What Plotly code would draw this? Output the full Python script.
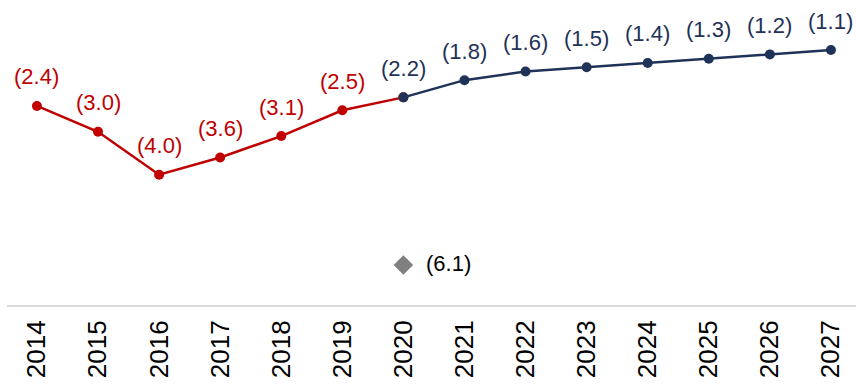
import plotly.graph_objects as go

years_hist = [2014, 2015, 2016, 2017, 2018, 2019, 2020]
vals_hist = [2.4, 3.0, 4.0, 3.6, 3.1, 2.5, 2.2]
years_fcst = [2020, 2021, 2022, 2023, 2024, 2025, 2026, 2027]
vals_fcst = [2.2, 1.8, 1.6, 1.5, 1.4, 1.3, 1.2, 1.1]
special_year = [2020]
special_val = [6.1]
tick_years = list(range(2014, 2028))

RED = "#C00000"
NAVY = "#1F3257"
FONT = "Liberation Sans, Arial"

def lab(v):
    return "(%.1f)" % v

fig = go.Figure()
fig.add_trace(go.Scatter(
    x=years_hist, y=[-v for v in vals_hist], mode="lines+markers",
    line=dict(color=RED, width=2.5), marker=dict(color=RED, size=10),
    hoverinfo="skip", cliponaxis=False))
fig.add_trace(go.Scatter(
    x=years_fcst, y=[-v for v in vals_fcst], mode="lines+markers",
    line=dict(color=NAVY, width=2.5), marker=dict(color=NAVY, size=10),
    hoverinfo="skip", cliponaxis=False))
fig.add_trace(go.Scatter(
    x=special_year, y=[-v for v in special_val], mode="markers+text",
    marker=dict(color="#808080", size=15, symbol="diamond"),
    text=["  " + lab(v) for v in special_val], textposition="middle right",
    textfont=dict(color="#000000", size=22, family=FONT),
    hoverinfo="skip", cliponaxis=False))

for x, v in zip(years_hist[:-1], vals_hist[:-1]):
    fig.add_annotation(x=x, y=-v, text=lab(v), showarrow=False, yshift=29,
                       font=dict(color=RED, size=22, family=FONT))
for x, v in zip(years_fcst, vals_fcst):
    fig.add_annotation(x=x, y=-v, text=lab(v), showarrow=False, yshift=29,
                       font=dict(color=NAVY, size=22, family=FONT))

fig.update_layout(
    width=856, height=384, margin=dict(l=7, r=0, t=0, b=79),
    paper_bgcolor="white", plot_bgcolor="white", showlegend=False,
    xaxis=dict(range=[2013.51, 2027.41], tickmode="array", tickvals=tick_years,
               ticktext=[str(y) for y in tick_years], tickangle=-90,
               tickfont=dict(size=26, color="#000000", family=FONT),
               automargin=False,
               showgrid=False, zeroline=False, showline=True, linecolor="#D9D9D9",
               linewidth=2, ticks="outside", ticklen=3, tickcolor="rgba(0,0,0,0)"),
    yaxis=dict(range=[-7.03, 0.065], visible=False),
)
fig.write_html("out.html")
